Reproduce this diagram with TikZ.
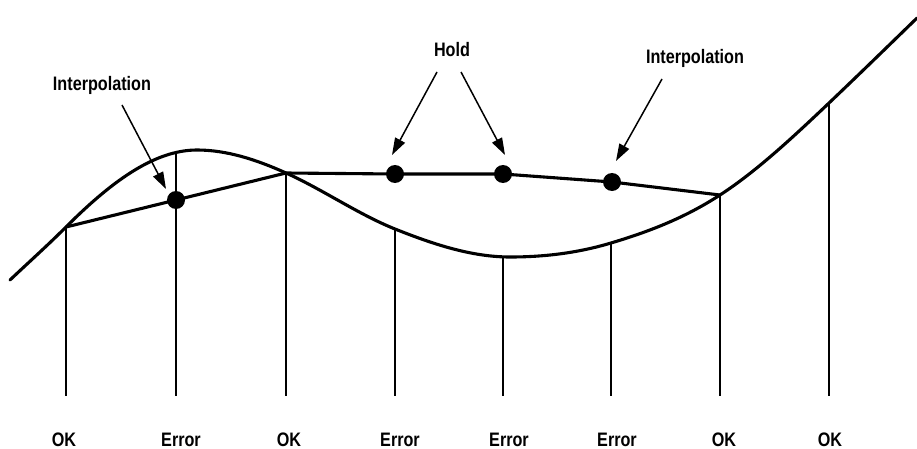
\documentclass[tikz,border=0pt]{standalone}
\usepackage{fontspec}
\setmainfont{Liberation Sans}
\usetikzlibrary{arrows.meta}
\begin{document}
\begin{tikzpicture}[x=1pt,y=-1pt,
  curve/.style={line width=3.1pt,line join=round,line cap=round},
  poly/.style={line width=3.1pt,line join=round},
  vline/.style={line width=1.1pt},
  dot/.style={circle,fill=black,inner sep=0pt,minimum size=18pt},
  lbl/.style={font=\fontsize{19.5}{22}\selectfont\bfseries,inner sep=0pt,xscale=0.83},
  ptr/.style={line width=1.5pt,-{Triangle[length=17pt,width=11pt]}}]
\useasboundingbox (0,0) rectangle (917,449);
% sample points
\foreach \n/\x/\y in {s1/66/227,s2/176/153,s3/286/173,s4/395/229,s5/503/257,s6/611/243,s7/720/195,s8/829/103}
  \coordinate (\n) at (\x,\y);
\foreach \n/\x in {b1/66,b2/176,b3/286,b4/395,b5/503,b6/611,b7/720,b8/829}
  \coordinate (\n) at (\x,396);
\coordinate (c0) at (10,280);
\coordinate (cpk) at (197,150);
\coordinate (cmn) at (510,257);
\coordinate (c9) at (917,18);
% the signal curve
\draw[curve] (c0)
  .. controls (28.67,262.3) and (47.33,245.7) .. (s1)
  .. controls (109.67,183.3) and (153.33,150) .. (cpk)
  .. controls (226.67,150) and (256.33,159.6) .. (s3)
  .. controls (322.33,189.3) and (358.67,214.5) .. (s4)
  .. controls (433.33,244.3) and (471.67,257) .. (cmn)
  .. controls (543.67,257) and (577.33,253.1) .. (s6)
  .. controls (647.33,232.1) and (683.67,218.6) .. (s7)
  .. controls (756.33,171.4) and (792.67,137.5) .. (s8)
  .. controls (858.33,75.1) and (887.67,46.5) .. (c9);
\foreach \i in {1,...,8} \draw[vline] (s\i) -- (b\i);
% concealed points
\node[dot] (d2) at (176,200) {};
\node[dot] (d4) at (395,174) {};
\node[dot] (d5) at (503,174) {};
\node[dot] (d6) at (612,182) {};
\draw[poly] (s1) -- (d2.center) -- (s3) -- (d4.center) -- (d5.center) -- (d6.center) -- (s7);
% labels at bottom
\foreach \x/\t in {64/OK,181/Error,289/OK,400/Error,509/Error,617/Error,724/OK,830/OK}
  \node[lbl] at (\x,440) {\t};
% annotations
\node[lbl] (i1) at (102,85) {Interpolation};
\node[lbl] (h) at (452,50) {Hold};
\node[lbl] (i2) at (695,58) {Interpolation};
\coordinate (a1s) at (122,105); \coordinate (a1e) at (166,189);
\coordinate (a2s) at (437,72); \coordinate (a2e) at (392,155);
\coordinate (a3s) at (461,72); \coordinate (a3e) at (505,155);
\coordinate (a4s) at (662,79); \coordinate (a4e) at (616,161);
\draw[ptr] (a1s) -- (a1e);
\draw[ptr] (a2s) -- (a2e);
\draw[ptr] (a3s) -- (a3e);
\draw[ptr] (a4s) -- (a4e);
\end{tikzpicture}
\end{document}
